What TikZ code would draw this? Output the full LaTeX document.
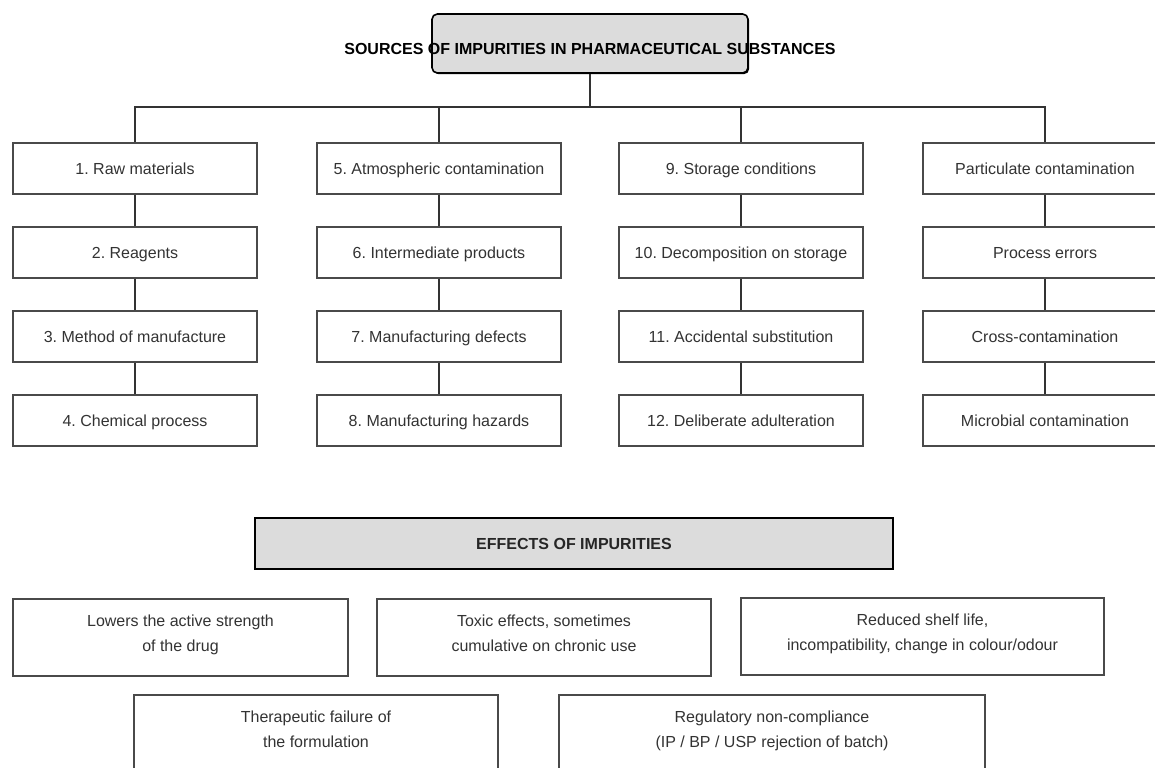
\documentclass[tikz,border=0pt]{standalone}
\usepackage{fontspec}
\setmainfont{Liberation Sans}
\usetikzlibrary{shadows}
\definecolor{boxgray}{HTML}{DCDCDC}
\definecolor{edgegray}{HTML}{4A4A4A}
\definecolor{txtgray}{HTML}{333333}
\definecolor{linegray}{HTML}{333333}
\frenchspacing
\begin{document}
\frenchspacing
\begin{tikzpicture}[x=0.75pt,y=-0.75pt,
  boxbase/.style={draw=edgegray, line width=0.8pt, fill=white, inner sep=0pt,
    text=txtgray, font=\fontsize{12}{18.75}\selectfont\frenchspacing, align=center,
    general shadow={fill=black, shadow xshift=1.1pt, shadow yshift=-1.1pt}},
  srcbox/.style={boxbase, minimum width=183pt, minimum height=38.25pt,
    text height=8.6pt, text depth=0pt},
  effbox/.style={boxbase, minimum height=57.75pt, text depth=6pt},
  headbox/.style={draw=black, line width=1.2pt, fill=boxgray, inner sep=0pt,
    general shadow={fill=black, shadow xshift=0.9pt, shadow yshift=-0.9pt}},
  headtext/.style={font=\fontsize{12}{14}\selectfont\bfseries, text=black, inner sep=0pt},
  conn/.style={draw=linegray, line width=1.1pt}
]
\useasboundingbox (0,0) rectangle (1155,767);
\clip (0,0) rectangle (1155,767);

% title
\node[headbox, rounded corners=4pt, minimum width=237pt, minimum height=44.25pt] (titlebox) at (590,43.5) {};
\node[headtext] (titletext) at (590,48.5) {SOURCES OF IMPURITIES IN PHARMACEUTICAL SUBSTANCES};

% column 1
\node[srcbox] (a1) at (135,168.5) {1. Raw materials};
\node[srcbox] (a2) at (135,252.5) {2. Reagents};
\node[srcbox] (a3) at (135,336.5) {3. Method of manufacture};
\node[srcbox] (a4) at (135,420.5) {4. Chemical process};
% column 2
\node[srcbox] (b1) at (439,168.5) {5. Atmospheric contamination};
\node[srcbox] (b2) at (439,252.5) {6. Intermediate products};
\node[srcbox] (b3) at (439,336.5) {7. Manufacturing defects};
\node[srcbox] (b4) at (439,420.5) {8. Manufacturing hazards};
% column 3
\node[srcbox] (c1) at (741,168.5) {9. Storage conditions};
\node[srcbox] (c2) at (741,252.5) {10. Decomposition on storage};
\node[srcbox] (c3) at (741,336.5) {11. Accidental substitution};
\node[srcbox] (c4) at (741,420.5) {12. Deliberate adulteration};
% column 4
\node[srcbox] (d1) at (1045,168.5) {Particulate contamination};
\node[srcbox] (d2) at (1045,252.5) {Process errors};
\node[srcbox] (d3) at (1045,336.5) {Cross-contamination};
\node[srcbox] (d4) at (1045,420.5) {Microbial contamination};

% connectors
\coordinate (hub) at (590,107);
\draw[conn] (titlebox.south) -- (hub);
\draw[conn] (a1.north) -- (a1.north |- hub) -- (d1.north |- hub) -- (d1.north);
\draw[conn] (b1.north) -- (b1.north |- hub);
\draw[conn] (c1.north) -- (c1.north |- hub);
\foreach \c in {a,b,c,d}{
  \draw[conn] (\c1.south) -- (\c2.north);
  \draw[conn] (\c2.south) -- (\c3.north);
  \draw[conn] (\c3.south) -- (\c4.north);
}

% effects
\node[headbox, minimum width=478.5pt, minimum height=38.25pt,
  font=\fontsize{12}{14}\selectfont\bfseries, text=black!85] (effects) at (574,543.5) {EFFECTS OF IMPURITIES};

\node[effbox, minimum width=251.25pt] (e1) at (180.5,637.5) {Lowers the active strength\\of the drug};
\node[effbox, minimum width=250.5pt] (e2) at (544,637.5) {Toxic effects, sometimes\\cumulative on chronic use};
\node[effbox, minimum width=272.25pt] (e3) at (922.5,636.5) {Reduced shelf life,\\incompatibility, change in colour/odour};
\node[effbox, minimum width=273pt] (e4) at (316,733.5) {Therapeutic failure of\\the formulation};
\node[effbox, minimum width=319.5pt] (e5) at (772,733.5) {Regulatory non-compliance\\(IP / BP / USP rejection of batch)};
\end{tikzpicture}
\end{document}
